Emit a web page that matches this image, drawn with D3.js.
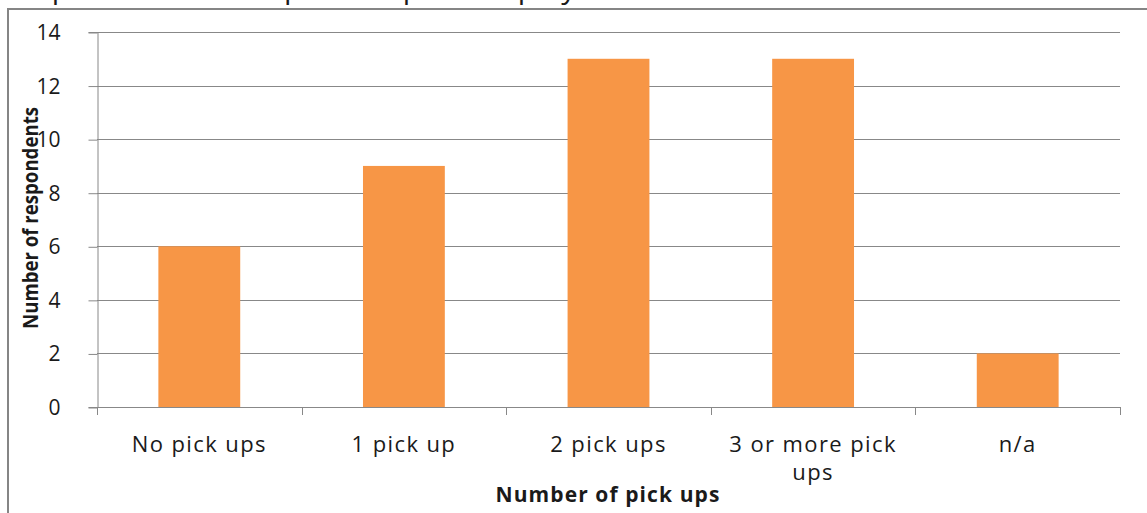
<!DOCTYPE html>
<html>
<head>
<meta charset="utf-8">
<script src="https://cdn.jsdelivr.net/npm/d3@7"></script>
<style>
  html, body { margin: 0; padding: 0; background: #fff; }
  svg { display: block; }
  text { font-family: "Open Sans", "Noto Sans", sans-serif; fill: #1a1a1a; }
</style>
</head>
<body>
<svg id="chart" width="1147" height="513"></svg>
<script>
// Respondents by number of ambulance pick ups
const categories = ["No pick ups", "1 pick up", "2 pick ups", "3 or more pick ups", "n/a"];
const respondents = [6, 9, 13, 13, 2];
const yTicks = [0, 2, 4, 6, 8, 10, 12, 14];
const titleText = "Graph 6: Number of patients picked up by the ambulance";
const xTitle = "Number of pick ups";
const yTitle = "Number of respondents";

const W = 1147, H = 513;
const plot = { left: 97, right: 1120, top: 32, bottom: 407 };
const gridColor = "#888888";
const barColor = "#F79646";

const svg = d3.select("#chart");

// Title line, running off the top of the canvas
svg.append("text")
  .attr("x", 2)
  .attr("y", -2)
  .attr("textLength", 786)
  .attr("lengthAdjust", "spacingAndGlyphs")
  .style("font-size", "27px")
  .text(titleText);

// Chart frame (left and top edges)
svg.append("path")
  .attr("d", `M8,${H + 5} L8,9 L${W + 5},9`)
  .attr("fill", "none")
  .attr("stroke", "#858585")
  .attr("stroke-width", 2);

const x = d3.scaleBand()
  .domain(categories)
  .range([plot.left, plot.right])
  .paddingInner(0.6)
  .paddingOuter(0.3);

const y = d3.scaleLinear()
  .domain([0, 14])
  .range([plot.bottom, plot.top]);

// Horizontal gridlines
svg.append("g")
  .selectAll("line")
  .data(yTicks.filter(d => d > 0))
  .join("line")
  .attr("x1", plot.left)
  .attr("x2", plot.right)
  .attr("y1", d => Math.round(y(d)) + 0.5)
  .attr("y2", d => Math.round(y(d)) + 0.5)
  .attr("stroke", gridColor)
  .attr("stroke-width", 1);

// Bars
svg.append("g")
  .selectAll("rect")
  .data(categories.map((c, i) => ({ c, v: respondents[i] })))
  .join("rect")
  .attr("x", d => x(d.c))
  .attr("width", x.bandwidth())
  .attr("y", d => y(d.v))
  .attr("height", d => y(0) - y(d.v))
  .attr("fill", barColor);

// Y axis
const yAxis = svg.append("g")
  .attr("transform", `translate(${plot.left + 0.5},0)`)
  .call(d3.axisLeft(y).tickValues(yTicks).tickSize(9).tickPadding(28));
yAxis.attr("font-size", null).attr("font-family", null);
yAxis.select(".domain").attr("stroke", gridColor);
yAxis.selectAll(".tick line").attr("stroke", gridColor)
  .attr("transform", "translate(0,0.5)");
yAxis.selectAll(".tick text")
  .style("font-size", "21px")
  .attr("dy", "0.36em")
  .attr("fill", "#1a1a1a");

// X axis baseline and category boundary ticks
const step = x.step();
const boundaries = categories.map(c => x(c) - step * x.paddingInner() / 2)
  .concat([x(categories[categories.length - 1]) + x.bandwidth() + step * x.paddingInner() / 2]);

svg.append("line")
  .attr("x1", plot.left)
  .attr("x2", plot.right)
  .attr("y1", y(0) + 0.5)
  .attr("y2", y(0) + 0.5)
  .attr("stroke", gridColor);

svg.append("g")
  .selectAll("line")
  .data(boundaries)
  .join("line")
  .attr("x1", d => Math.round(d) + 0.5)
  .attr("x2", d => Math.round(d) + 0.5)
  .attr("y1", y(0))
  .attr("y2", y(0) + 8)
  .attr("stroke", gridColor);

// Category labels, wrapped to the band width
const labelWidth = step * 0.95;
const labels = svg.append("g")
  .selectAll("text")
  .data(categories)
  .join("text")
  .attr("x", d => x(d) + x.bandwidth() / 2)
  .attr("y", 452)
  .attr("text-anchor", "middle")
  .style("font-size", "22px")
  .style("letter-spacing", "1.4px");

labels.each(function (d) {
  const t = d3.select(this);
  const words = d.split(" ");
  let line = [];
  let tspan = t.append("tspan").attr("x", t.attr("x")).attr("dy", 0);
  for (const w of words) {
    line.push(w);
    tspan.text(line.join(" "));
    if (tspan.node().getComputedTextLength() > labelWidth && line.length > 1) {
      line.pop();
      tspan.text(line.join(" "));
      line = [w];
      tspan = t.append("tspan").attr("x", t.attr("x")).attr("dy", 28).text(w);
    }
  }
});

// Axis titles
svg.append("text")
  .attr("x", 608)
  .attr("y", 502)
  .attr("text-anchor", "middle")
  .style("font-size", "21px")
  .style("font-weight", "bold")
  .style("letter-spacing", "1.1px")
  .text(xTitle);

svg.append("text")
  .attr("transform", "translate(38,218) rotate(-90)")
  .attr("text-anchor", "middle")
  .attr("textLength", 222)
  .attr("lengthAdjust", "spacingAndGlyphs")
  .style("font-size", "22px")
  .style("font-weight", "bold")
  .text(yTitle);
</script>
</body>
</html>
